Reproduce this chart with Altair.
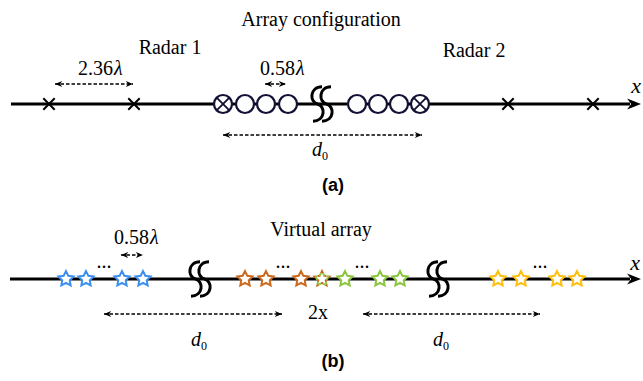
import altair as alt
import pandas as pd

# ---- diagram geometry (canvas units, 643 x 381, y grows downward) ----
axis_y = [104, 279]            # baselines of panel (a) and panel (b)
axis_start = [11, 10]
axis_end = [630, 630]
axis_tip = [641, 641]

cross_x = [49, 134, 508, 593]          # single radar elements
ring_x = [245, 266, 288, 357, 378, 399]  # receive elements
crossed_ring_x = [223, 420]            # shared transmit/receive elements
break_a_x = [322]
break_b_x = [200, 438]

blue_x = [66, 86, 122, 143]
orange_x = [245, 266, 301]
shared_x = [322]
green_x = [345, 380, 400]
yellow_x = [498, 521, 557, 577]
ellipsis_x = [104, 283, 362, 540]

dim_start = [55, 265, 223, 121, 104, 363]
dim_end = [133, 286, 422, 143, 282, 540]
dim_y = [84, 84, 135, 255, 314, 314]

lam_values = ["2.36", "0.58", "0.58"]
lam_split_x = [113, 295, 149]
lam_y = [69, 69, 238]

d0_x = [317, 196, 438]
d0_y = [150, 340, 340]

plain_labels = ["Array configuration", "Radar 1", "Radar 2", "Virtual array", "2x"]
plain_x = [321, 170, 474, 321, 318]
plain_y = [20, 48, 51, 230, 313]

panel_labels = ["(a)", "(b)"]
panel_x = [333, 333]
panel_y = [186, 362]

x_label_x = [636, 635]
x_label_y = [86, 263]

# ---- symbol paths ----
ARROW = "M0,0L-2,-0.8L-1.4,0L-2,0.8Z"
XMARK = "M-1,-1L1,1M-1,1L1,-1"
XMARK_SMALL = "M-0.68,-0.68L0.68,0.68M-0.68,0.68L0.68,-0.68"
STAR = ("M0,-1L0.294,-0.405L0.951,-0.309L0.476,0.155L0.588,0.809L0,0.5"
        "L-0.588,0.809L-0.476,0.155L-0.951,-0.309L-0.294,-0.405Z")
BREAK = ("M0,-0.95C-0.7,-0.95 -0.7,-0.1 -0.25,0C0.2,0.1 0.2,0.95 -0.5,0.95"
         "M0.5,-0.95C-0.2,-0.95 -0.2,-0.1 0.25,0C0.7,0.1 0.7,0.95 0,0.95")

SERIF = "Liberation Serif"
SANS = "Liberation Sans"
INK = "#111133"

xs = alt.Scale(domain=[0, 643], nice=False, zero=False)
ys = alt.Scale(domain=[381, 0], nice=False, zero=False)


def X(field="x"):
    return alt.X(f"{field}:Q", scale=xs, axis=None)


def Y(field="y"):
    return alt.Y(f"{field}:Q", scale=ys, axis=None)


def pts(xv, yv):
    return pd.DataFrame({"x": xv, "y": [yv] * len(xv)})


axis_df = pd.DataFrame({"x": axis_start, "x2": axis_end, "y": axis_y})
axis_lines = alt.Chart(axis_df).mark_rule(strokeWidth=3, color="black").encode(
    x=X(), x2="x2:Q", y=Y())
axis_heads = alt.Chart(pd.DataFrame({"x": axis_tip, "y": axis_y})).mark_point(
    shape=ARROW, filled=True, size=196, color="black", opacity=1).encode(x=X(), y=Y())

dim_df = pd.DataFrame({"x": dim_start, "x2": dim_end, "y": dim_y})
dim_lines = alt.Chart(dim_df).mark_rule(strokeWidth=1.3, strokeDash=[3.5, 2], color="black").encode(
    x=X(), x2="x2:Q", y=Y())
dim_left = alt.Chart(pd.DataFrame({"x": dim_start, "y": dim_y})).mark_point(
    shape=ARROW, angle=180, filled=True, size=52, color="black", opacity=1).encode(x=X(), y=Y())
dim_right = alt.Chart(pd.DataFrame({"x": dim_end, "y": dim_y})).mark_point(
    shape=ARROW, filled=True, size=52, color="black", opacity=1).encode(x=X(), y=Y())

crosses = alt.Chart(pts(cross_x, axis_y[0])).mark_point(
    shape=XMARK, filled=False, size=130, strokeWidth=2, color="black", opacity=1).encode(x=X(), y=Y())

rings = alt.Chart(pts(ring_x + crossed_ring_x, axis_y[0])).mark_point(
    shape="circle", filled=True, fill="white", stroke=INK, strokeWidth=2.2, size=324,
    opacity=1, fillOpacity=1).encode(x=X(), y=Y())
ring_marks = alt.Chart(pts(crossed_ring_x, axis_y[0])).mark_point(
    shape=XMARK_SMALL, filled=False, size=324, strokeWidth=1.8, color=INK, opacity=1).encode(x=X(), y=Y())

breaks = alt.Chart(pd.DataFrame({"x": break_a_x + break_b_x,
                                 "y": [axis_y[0]] * len(break_a_x) + [axis_y[1]] * len(break_b_x)})).mark_point(
    shape=BREAK, filled=False, size=1300, strokeWidth=3, color="black", opacity=1).encode(x=X(), y=Y())


def stars(xv, col, **kw):
    return alt.Chart(pts(xv, axis_y[1])).mark_point(
        shape=STAR, filled=True, fill="white", stroke=col, strokeWidth=2, size=250,
        opacity=1, fillOpacity=1, **kw).encode(x=X(), y=Y())


BLUE, ORANGE, GREEN, YELLOW = "#3d8ff0", "#cc6a1f", "#8cc63f", "#ffbf0f"
star_layers = [
    stars(blue_x, BLUE), stars(orange_x, ORANGE), stars(green_x, GREEN), stars(yellow_x, YELLOW),
    stars(shared_x, ORANGE, strokeDash=[2.5, 2.5]),
    alt.Chart(pts(shared_x, axis_y[1])).mark_point(
        shape=STAR, filled=False, stroke=GREEN, strokeWidth=2, size=250, opacity=1,
        strokeDash=[2.5, 2.5], strokeDashOffset=2.5).encode(x=X(), y=Y()),
]

dots = alt.Chart(pts(ellipsis_x, 268)).mark_text(
    text="...", font=SERIF, fontSize=20, baseline="alphabetic", color="black").encode(x=X(), y=Y())

plain = alt.Chart(pd.DataFrame({"x": plain_x, "y": plain_y, "t": plain_labels})).mark_text(
    font=SERIF, fontSize=20, baseline="middle", align="center", color="black").encode(
    x=X(), y=Y(), text="t:N")

panels = alt.Chart(pd.DataFrame({"x": panel_x, "y": panel_y, "t": panel_labels})).mark_text(
    font=SANS, fontSize=18, fontWeight="bold", baseline="middle", align="center", color="black").encode(
    x=X(), y=Y(), text="t:N")

lam_df = pd.DataFrame({"x": lam_split_x, "y": lam_y, "t": lam_values})
lam_num = alt.Chart(lam_df).mark_text(
    font=SERIF, fontSize=20, baseline="middle", align="right", color="black").encode(
    x=X(), y=Y(), text="t:N")
lam_sym = alt.Chart(lam_df).mark_text(
    text="λ", font=SERIF, fontSize=20, fontStyle="italic", baseline="middle", align="left",
    dx=1, color="black").encode(x=X(), y=Y())

d0_df = pd.DataFrame({"x": d0_x, "y": d0_y})
d_sym = alt.Chart(d0_df).mark_text(
    text="d", font=SERIF, fontSize=20, fontStyle="italic", baseline="middle", align="center",
    color="black").encode(x=X(), y=Y())
d_sub = alt.Chart(d0_df).mark_text(
    text="0", font=SERIF, fontSize=12, baseline="middle", align="left", dx=5, dy=6,
    color="black").encode(x=X(), y=Y())

x_labels = alt.Chart(pd.DataFrame({"x": x_label_x, "y": x_label_y})).mark_text(
    text="x", font=SERIF, fontSize=22, fontStyle="italic", baseline="middle", align="center",
    color="black").encode(x=X(), y=Y())

chart = alt.layer(
    axis_lines, axis_heads, dim_lines, dim_left, dim_right,
    crosses, rings, ring_marks, breaks, *star_layers, dots,
    plain, panels, lam_num, lam_sym, d_sym, d_sub, x_labels,
).properties(
    width=643, height=381, padding=0,
    autosize=alt.AutoSizeParams(type="none"),
    background="white",
).configure_view(stroke=None)

chart.save("out.html", embed_options={"renderer": "svg", "actions": False})
